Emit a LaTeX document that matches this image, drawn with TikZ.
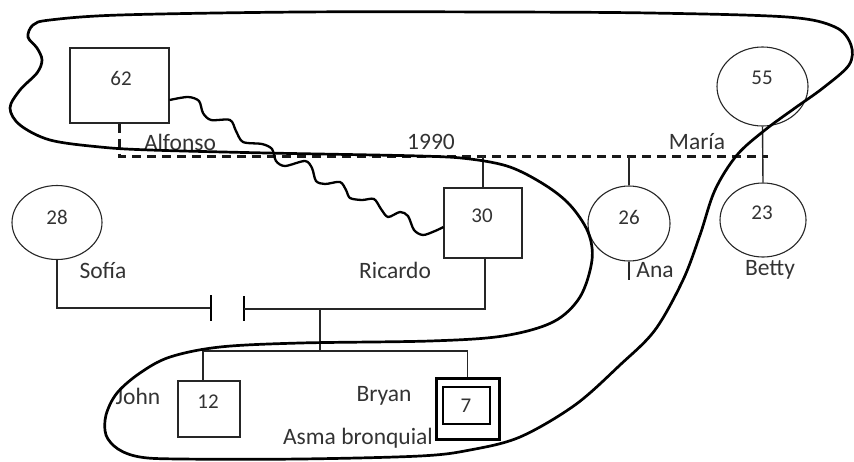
\documentclass[tikz,border=0pt]{standalone}
\usepackage{fontspec}
\setmainfont{Carlito}
\usetikzlibrary{shapes.geometric}
\tikzset{
  person/.style={draw=black!85, line width=1.1pt, inner sep=0pt},
  male/.style={person, rectangle},
  female/.style={person, ellipse},
  num/.style={font=\fontsize{21}{24}\selectfont, text=black!80, inner sep=0pt},
  lbl/.style={font=\fontsize{23.5}{27}\selectfont, text=black!80, inner sep=0pt},
  link/.style={draw=black!85, line width=1.4pt},
  marriage/.style={draw=black!90, line width=3pt, dash pattern=on 9pt off 6pt},
  bigloop/.style={draw=black, line width=2.7pt},
  conflict/.style={draw=black, line width=2.3pt},
  sepmark/.style={draw=black, line width=2.7pt}
}
\begin{document}
\begin{tikzpicture}[x=1pt,y=-1pt]
\useasboundingbox (0,0) rectangle (854,461);
% people
\node[male, minimum width=99pt, minimum height=75pt] (g62) at (119.5,85.5) {};
\node[num] (t62) at (121,78) {62};
\node[female, minimum width=91pt, minimum height=79pt] (m55) at (762.5,86.5) {};
\node[num] (t55) at (762,78) {55};
\node[female, minimum width=86pt, minimum height=74pt] (f23) at (763,220) {};
\node[num] (t23) at (762,213) {23};
\node[female, minimum width=82pt, minimum height=75pt] (f26) at (629,223.5) {};
\node[num] (t26) at (629,217) {26};
\node[male, minimum width=78pt, minimum height=70pt] (b30) at (483,223) {};
\node[num] (t30) at (482,216) {30};
\node[female, minimum width=90pt, minimum height=74pt] (f28) at (57,222.5) {};
\node[num] (t28) at (57,217) {28};
\node[male, minimum width=62pt, minimum height=56pt] (b12) at (209,409) {};
\node[num] (t12) at (208,402) {12};
\node[male, draw=black, line width=3pt, minimum width=63pt, minimum height=61pt] (b7) at (467.5,408.5) {};
\node[male, draw=black, line width=2.6pt, minimum width=47pt, minimum height=37pt] (b7i) at (466.5,405.5) {};
\node[num] (t7) at (466,406) {7};
% labels
\node[lbl] (lAlfonso) at (180,142) {Alfonso};
\node[lbl] (l1990) at (431,142) {1990};
\node[lbl] (lMaria) at (697,142) {María};
\node[lbl] (lSofia) at (103,270) {Sofía};
\node[lbl] (lRicardo) at (395,270) {Ricardo};
\node[lbl] (lAna) at (655,270) {Ana};
\node[lbl] (lBetty) at (770,270) {Betty};
\node[lbl] (lJohn) at (138,396) {John};
\node[lbl] (lBryan) at (384,396) {Bryan};
\node[lbl] (lAsma) at (358,438) {Asma bronquial};
% coordinates
\coordinate (mR) at (768,156);
\coordinate (tL) at (211,308);
\coordinate (tR) at (244,309);
\coordinate (cTop) at (320,309);
\coordinate (cBar) at (320,351);
% marriage line
\draw[marriage] (g62.south) |- (mR);
\draw[link] (m55.south) -- (f23.north);
\draw[link] (b30.north) -- (b30.north |- mR);
\draw[link] (f26.north) -- (f26.north |- mR);
\draw[link] (f26.south) -- ++(0,18);
% Sofia - Ricardo separated
\draw[link] (f28.south) |- (tL);
\draw[sepmark] ([yshift=13pt]tL) -- ([yshift=-13pt]tL);
\draw[sepmark] ([yshift=13pt]tR) -- ([yshift=-12pt]tR);
\draw[link] ([xshift=2pt]b30.south) |- (tR);
% children
\draw[link] (cTop) -- (cBar);
\draw[link] ([xshift=-6pt]b12.north) |- (cBar -| b7.north) -- (b7.north);
% conflict (staircase wave)
\draw[conflict] plot[smooth, tension=0.5] coordinates {
([yshift=-14.5pt]g62.east) (188,97) (199,101) (203,113) (211,120) (230,120) (236,131)
(243,142) (262,144) (272,149) (276,161) (285,166) (305,161) (312,168) (316,181)
(325,184) (340,182) (346,190) (350,198) (362,200) (374,199) (381,209) (388,217)
(400,212) (408,216) (414,230) (423,235) (435,231) ([yshift=-4pt]b30.west)};
% big loop
\draw[bigloop] plot[smooth cycle, tension=0.55] coordinates {
(33,25) (50,20) (120,15) (300,12) (500,12) (650,13) (787,17) (835,27) (851,45) (849,65)
(823,88) (795,108) (765,130) (737,155) (715,190) (700,235) (683,280) (655,330) (620,365)
(575,405) (520,437) (470,450) (420,456) (300,459) (180,459) (140,457) (118,449) (106,435)
(106,415) (117,393) (140,373) (170,357) (220,347) (300,343) (430,341) (503,336) (553,322)
(580,297) (592,260) (588,232) (570,205) (545,185) (510,167) (470,159) (420,156) (267,153)
(150,150) (100,147) (50,140) (20,125) (10,108) (20,90) (37,73) (42,60) (37,48) (28,37)};
\end{tikzpicture}
\end{document}
